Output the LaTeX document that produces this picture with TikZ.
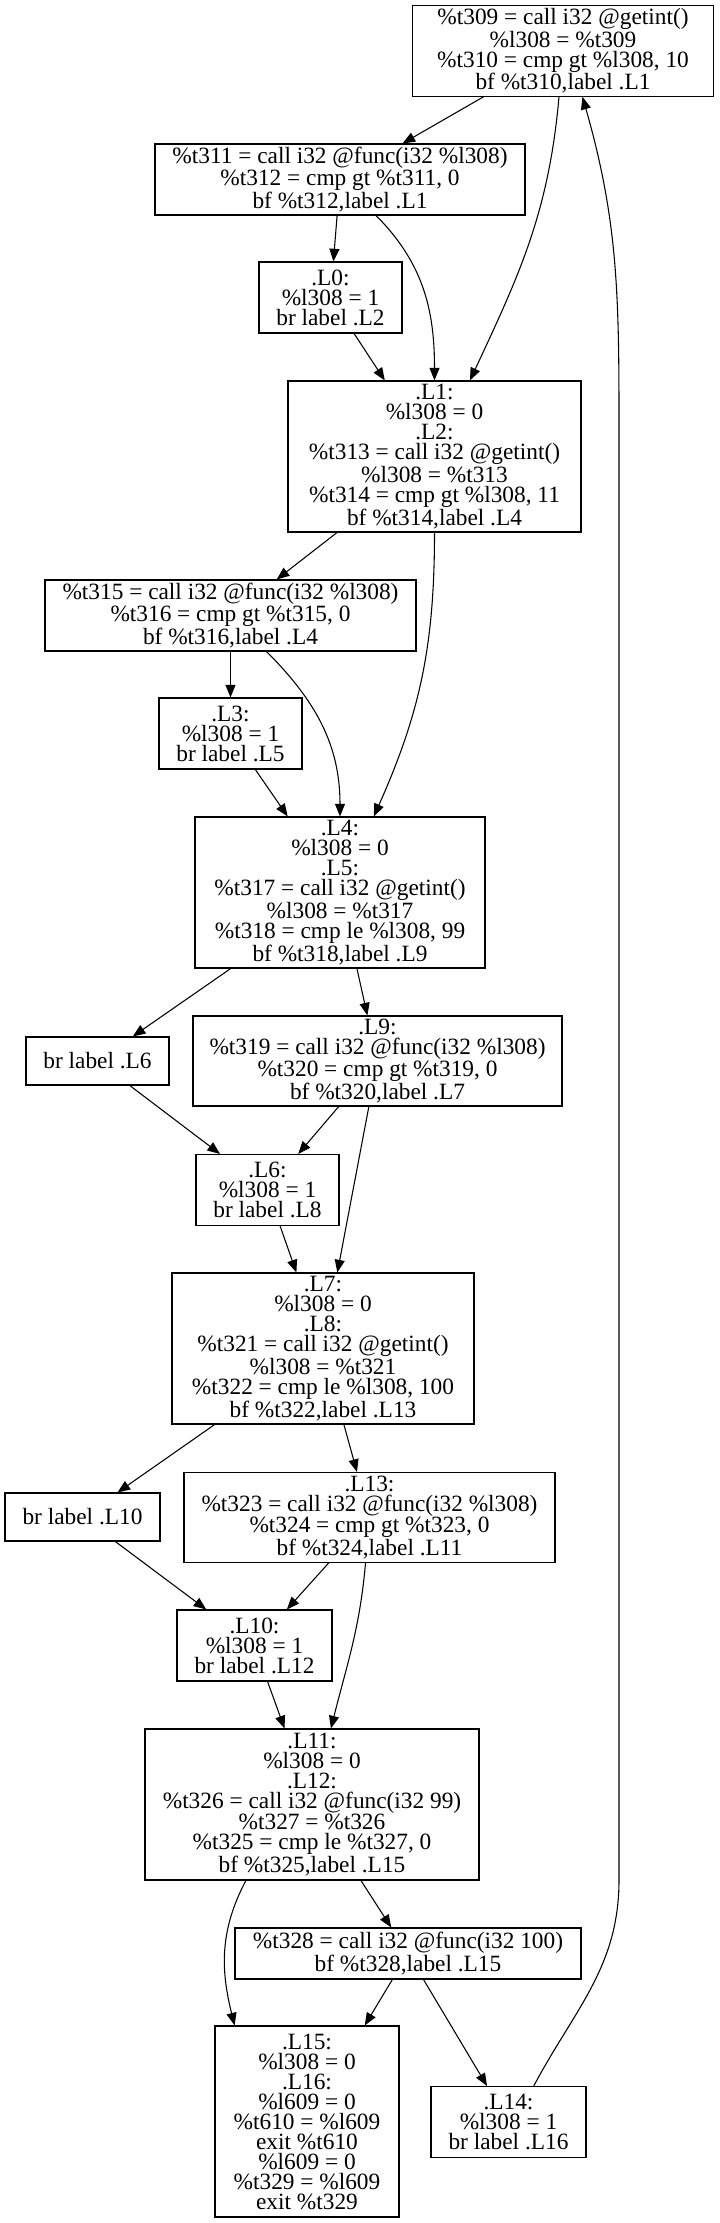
\documentclass[tikz,border=0pt]{standalone}
\usepackage{fontspec}
\setmainfont{Liberation Serif}
\usetikzlibrary{arrows.meta}
\begin{document}
\begin{tikzpicture}[x=0.75pt,y=-0.75pt,->,>={Triangle[length=9.5pt,width=7.5pt]},line width=0.8pt,
		block/.style={rectangle,draw,inner sep=2pt,align=center,font=\fontsize{17.5}{15}\selectfont}]
		\useasboundingbox (0,0) rectangle (719,2223);
		
		\node[block,minimum width=225.75pt,minimum height=67.5pt] (0) at (563,51) {\%t309 = call i32 @getint()\\ \%l308 = \%t309\\ \%t310 = cmp gt \%l308, 10\\ bf \%t310,label .L1};
		\node[block,minimum width=277.5pt,minimum height=53.25pt] (1) at (340,179.5) {\%t311 = call i32 @func(i32 \%l308)\\ \%t312 = cmp gt \%t311, 0\\ bf \%t312,label .L1};
		\node[block,minimum width=107.25pt,minimum height=53.25pt] (2) at (330.5,297.5) {.L0:\\ \%l308 = 1\\ br label .L2};
		\node[block,minimum width=219.75pt,minimum height=113.25pt] (3) at (434.5,456.5) {.L1:\\ \%l308 = 0\\ .L2:\\ \%t313 = call i32 @getint()\\ \%l308 = \%t313\\ \%t314 = cmp gt \%l308, 11\\ bf \%t314,label .L4};
		\node[block,minimum width=278.25pt,minimum height=53.25pt] (4) at (230.5,615.5) {\%t315 = call i32 @func(i32 \%l308)\\ \%t316 = cmp gt \%t315, 0\\ bf \%t316,label .L4};
		\node[block,minimum width=107.25pt,minimum height=53.25pt] (5) at (230.5,733.5) {.L3:\\ \%l308 = 1\\ br label .L5};
		\node[block,minimum width=217.5pt,minimum height=113.25pt] (6) at (340,892.5) {.L4:\\ \%l308 = 0\\ .L5:\\ \%t317 = call i32 @getint()\\ \%l308 = \%t317\\ \%t318 = cmp le \%l308, 99\\ bf \%t318,label .L9};
		\node[block,minimum width=107.25pt,minimum height=36pt] (7) at (97.5,1061) {br label .L6};
		\node[block,minimum width=276.75pt,minimum height=67.5pt] (8) at (377.5,1061) {.L9:\\ \%t319 = call i32 @func(i32 \%l308)\\ \%t320 = cmp gt \%t319, 0\\ bf \%t320,label .L7};
		\node[block,minimum width=107.25pt,minimum height=53.25pt] (9) at (267.5,1190) {.L6:\\ \%l308 = 1\\ br label .L8};
		\node[block,minimum width=226.5pt,minimum height=113.25pt] (10) at (323,1348.5) {.L7:\\ \%l308 = 0\\ .L8:\\ \%t321 = call i32 @getint()\\ \%l308 = \%t321\\ \%t322 = cmp le \%l308, 100\\ bf \%t322,label .L13};
		\node[block,minimum width=116.25pt,minimum height=36pt] (11) at (82.5,1517) {br label .L10};
		\node[block,minimum width=278.25pt,minimum height=67.5pt] (12) at (369.5,1517.5) {.L13:\\ \%t323 = call i32 @func(i32 \%l308)\\ \%t324 = cmp gt \%t323, 0\\ bf \%t324,label .L11};
		\node[block,minimum width=116.25pt,minimum height=53.25pt] (13) at (254.5,1645.5) {.L10:\\ \%l308 = 1\\ br label .L12};
		\node[block,minimum width=250.5pt,minimum height=113.25pt] (14) at (312,1804.5) {.L11:\\ \%l308 = 0\\ .L12:\\ \%t326 = call i32 @func(i32 99)\\ \%t327 = \%t326\\ \%t325 = cmp le \%t327, 0\\ bf \%t325,label .L15};
		\node[block,minimum width=259.5pt,minimum height=38.25pt] (15) at (408,1953.5) {\%t328 = call i32 @func(i32 100)\\ bf \%t328,label .L15};
		\node[block,minimum width=138pt,minimum height=143.25pt] (16) at (307,2121.5) {.L15:\\ \%l308 = 0\\ .L16:\\ \%l609 = 0\\ \%t610 = \%l609\\ exit \%t610\\ \%l609 = 0\\ \%t329 = \%l609\\ exit \%t329};
		\node[block,minimum width=116.25pt,minimum height=53.25pt] (17) at (508.5,2122) {.L14:\\ \%l308 = 1\\ br label .L16};
		
		\coordinate (r1) at (619,1880);
		\coordinate (r2) at (619,420);
		
		\path
		(0) edge (1)
		(0) edge[out=-95,in=65] (3)
		(1) edge (2)
		(1) edge[out=-45,in=90] (3)
		(2) edge (3)
		(3) edge (4)
		(3) edge[out=-90,in=66] (6)
		(4) edge (5)
		(4) edge[out=-45,in=90] (6)
		(5) edge (6)
		(6) edge (7)
		(6) edge (8)
		(7) edge (9)
		(8) edge (9)
		(8) edge (10)
		(9) edge (10)
		(10) edge (11)
		(10) edge (12)
		(11) edge (13)
		(12) edge (13)
		(12) edge[out=-95,in=76] (14)
		(13) edge (14)
		(14) edge (15)
		(14.-131) edge[out=-118,in=104] (16.127)
		(15) edge (16)
		(15) edge (17)
		;
		\draw (17.55) to[out=62,in=-90] (r1) -- (r2) to[out=90,in=-74] (0.-67);
		\end{tikzpicture}
\end{document}
